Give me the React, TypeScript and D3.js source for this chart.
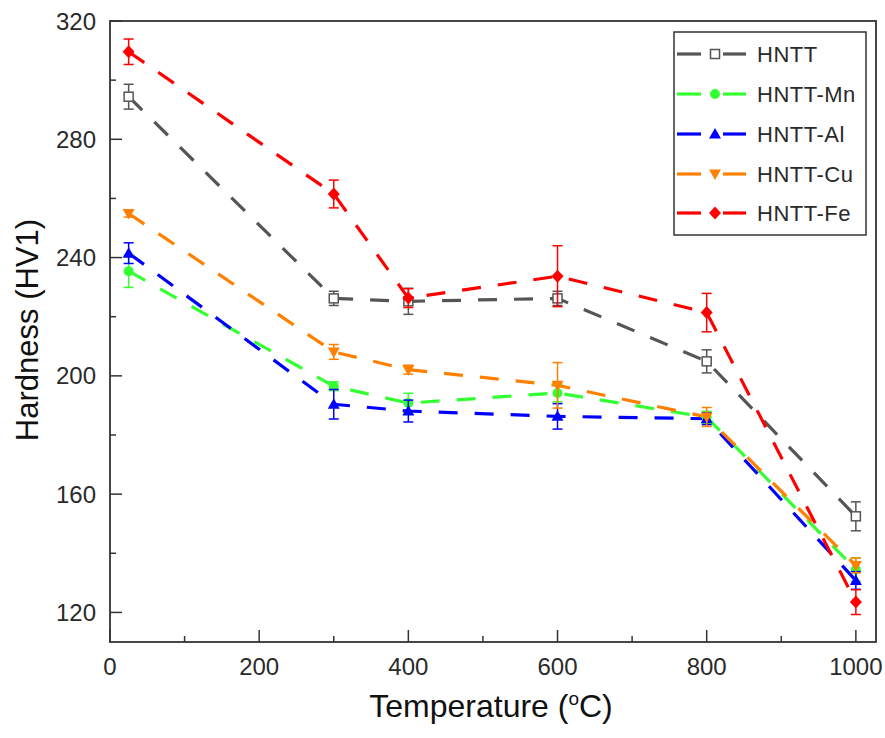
import React from "react";
import * as d3 from "d3";

const temps = [25, 300, 400, 600, 800, 1000];
const seriesNames = ["HNTT", "HNTT-Mn", "HNTT-Al", "HNTT-Cu", "HNTT-Fe"];
const hnttVals = [294.4, 226.2, 225.2, 226.2, 204.9, 152.5];
const hnttErr = [4.2, 2.4, 4.4, 2.4, 3.9, 4.9];
const mnVals = [235.4, 196.5, 190.8, 194.2, 186.0, 134.5];
const mnErr = [5.5, 1.5, 3.3, 3.0, 2.0, 4.0];
const alVals = [241.5, 190.4, 188.1, 186.3, 185.5, 130.8];
const alErr = [3.5, 5.0, 3.7, 4.3, 2.0, 3.0];
const cuVals = [254.9, 208.1, 202.1, 196.8, 186.1, 135.9];
const cuErr = [1.2, 2.5, 1.5, 7.7, 3.2, 2.5];
const feVals = [309.6, 261.5, 226.3, 233.7, 221.4, 123.5];
const feErr = [4.3, 4.7, 3.2, 10.3, 6.5, 4.2];
const xTicks = [0, 200, 400, 600, 800, 1000];
const xMinor = [100, 300, 500, 700, 900];
const yTicks = [120, 160, 200, 240, 280, 320];
const yMinor = [140, 180, 220, 260, 300];

const colors = ["#555555", "#33ff33", "#0000ff", "#ff8000", "#ff0000"];
const shapes = ["square", "circle", "triangle", "triangleDown", "diamond"];

const allVals = [hnttVals, mnVals, alVals, cuVals, feVals];
const allErr = [hnttErr, mnErr, alErr, cuErr, feErr];

const L = 110, R = 876, T = 21, B = 642;
const x = d3.scaleLinear().domain([0, 1027]).range([L, R]);
const y = d3.scaleLinear().domain([110, 320]).range([B, T]);

function Marker({ shape, cx, cy, color }: any) {
  if (shape === "square")
    return <rect x={cx - 4.5} y={cy - 4.5} width={9} height={9} fill="white" stroke={color} strokeWidth={1.5} />;
  if (shape === "circle") return <circle cx={cx} cy={cy} r={5} fill={color} />;
  if (shape === "triangle")
    return <path d={`M${cx},${cy - 6}L${cx + 6},${cy + 4.5}L${cx - 6},${cy + 4.5}Z`} fill={color} />;
  if (shape === "triangleDown")
    return <path d={`M${cx},${cy + 6}L${cx + 6},${cy - 4.5}L${cx - 6},${cy - 4.5}Z`} fill={color} />;
  return <path d={`M${cx},${cy - 6.5}L${cx + 6},${cy}L${cx},${cy + 6.5}L${cx - 6},${cy}Z`} fill={color} />;
}

export default function App() {
  const line = d3
    .line<number>()
    .x((_, i) => x(temps[i]))
    .y((d) => y(d));
  const font = "'Liberation Sans', Arial, sans-serif";
  const legendRows = [54, 94, 134, 174, 213];
  return (
    <svg width={885} height={738} style={{ position: "absolute", left: 0, top: 0 }} fontFamily={font}>
      <rect width={885} height={738} fill="white" />
      {allVals.map((vals, si) => (
        <path key={"l" + si} d={line(vals) || ""} fill="none" stroke={colors[si]} strokeWidth={3.2} strokeDasharray="19,17" />
      ))}
      {allVals.map((vals, si) => (
        <g key={"m" + si}>
          {vals.map((v, i) => {
            const cx = x(temps[i]);
            const e = allErr[si][i];
            const y1 = y(v + e), y2 = y(v - e);
            return (
              <g key={i} stroke={colors[si]} strokeWidth={1.5}>
                <line x1={cx} x2={cx} y1={y1} y2={y2} />
                <line x1={cx - 5} x2={cx + 5} y1={y1} y2={y1} />
                <line x1={cx - 5} x2={cx + 5} y1={y2} y2={y2} />
              </g>
            );
          })}
          {vals.map((v, i) => (
            <Marker key={"k" + i} shape={shapes[si]} cx={x(temps[i])} cy={y(v)} color={colors[si]} />
          ))}
        </g>
      ))}
      <rect x={L} y={T} width={R - L} height={B - T} fill="none" stroke="#333" strokeWidth={1.8} />
      {xTicks.map((t) => (
        <g key={"xt" + t}>
          <line x1={x(t)} x2={x(t)} y1={B} y2={B - 12} stroke="#333" strokeWidth={1.5} />
          <text x={x(t)} y={675} textAnchor="middle" fontSize={24} fill="#2a2a2a">{t}</text>
        </g>
      ))}
      {xMinor.map((t) => (
        <line key={"xm" + t} x1={x(t)} x2={x(t)} y1={B} y2={B - 6} stroke="#333" strokeWidth={1.5} />
      ))}
      {yTicks.map((t) => (
        <g key={"yt" + t}>
          <line x1={L} x2={L + 12} y1={y(t)} y2={y(t)} stroke="#333" strokeWidth={1.5} />
          <text x={96} y={y(t) + 8.5} textAnchor="end" fontSize={24} fill="#2a2a2a">{t}</text>
        </g>
      ))}
      {yMinor.map((t) => (
        <line key={"ym" + t} x1={L} x2={L + 6} y1={y(t)} y2={y(t)} stroke="#333" strokeWidth={1.5} />
      ))}
      <text x={491} y={717} textAnchor="middle" fontSize={32} fill="#111">
        Temperature (<tspan fontSize={19} dy={-12}>o</tspan><tspan dy={12}>C)</tspan>
      </text>
      <text transform="translate(38,330) rotate(-90)" textAnchor="middle" fontSize={31} fill="#111">
        Hardness (HV1)
      </text>
      <rect x={674} y={32} width={192} height={203} fill="white" stroke="#333" strokeWidth={1.5} />
      {seriesNames.map((n, si) => {
        const ry = legendRows[si];
        return (
          <g key={"lg" + si}>
            <line x1={677} x2={701} y1={ry} y2={ry} stroke={colors[si]} strokeWidth={3.2} />
            <line x1={723} x2={746} y1={ry} y2={ry} stroke={colors[si]} strokeWidth={3.2} />
            <Marker shape={shapes[si]} cx={715} cy={ry} color={colors[si]} />
            <text x={757} y={ry + 8} fontSize={22} fill="#2a2a2a" letterSpacing={0.5}>{n}</text>
          </g>
        );
      })}
    </svg>
  );
}
